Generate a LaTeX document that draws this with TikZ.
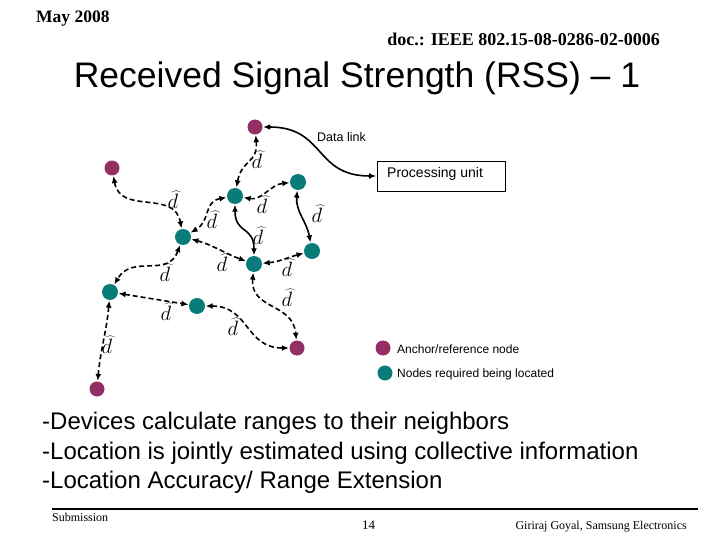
\documentclass[tikz,border=0pt]{standalone}
\usepackage{fontspec}
\setmainfont{Liberation Serif}
\newfontfamily\arialf{Liberation Sans}
\newfontfamily\tnrf{Liberation Serif}
\usetikzlibrary{arrows.meta}
\definecolor{anchorc}{RGB}{146,48,102}
\definecolor{tealc}{RGB}{8,124,120}
\begin{document}
\begin{tikzpicture}[x=1pt,y=-1pt,
  anc/.style={circle,fill=anchorc,minimum size=15pt,inner sep=0pt},
  unk/.style={circle,fill=tealc,minimum size=16pt,inner sep=0pt},
  lnk/.style={line width=1.6pt,{Latex[length=7pt,width=6pt]}-{Latex[length=7pt,width=6pt]},shorten <=0.5pt,shorten >=0.5pt},
  rng/.style={lnk,dash pattern=on 5pt off 3pt},
  dh/.style={font=\fontsize{20}{20}\selectfont,inner sep=0pt},
  small/.style={font=\arialf\fontsize{12}{14}\selectfont,inner sep=0pt,anchor=west}]
\useasboundingbox (0,0) rectangle (720,540);
% header
\node[anchor=base west,inner sep=0pt,font=\tnrf\bfseries\fontsize{17.5}{19}\selectfont] (hd1) at (36,23) {May 2008};
\node[anchor=base east,inner sep=0pt,font=\tnrf\bfseries\fontsize{18}{20}\selectfont] (hd2) at (660,46) {doc.: IEEE 802.15-08-0286-02-0006};
% title
\node[anchor=base,inner sep=0pt,font=\arialf\fontsize{35.5}{38}\selectfont] (title) at (357,88) {Received Signal Strength (RSS) – 1};
% nodes
\node[anc] (A1) at (255,127) {};
\node[anc] (A2) at (112,168) {};
\node[anc] (A3) at (297,348) {};
\node[anc] (A4) at (97,389) {};
\node[unk] (T1) at (235,196) {};
\node[unk] (T2) at (298,182) {};
\node[unk] (T3) at (183,237) {};
\node[unk] (T4) at (312,251) {};
\node[unk] (T5) at (254,264) {};
\node[unk] (T6) at (110,292) {};
\node[unk] (T7) at (197,306) {};
\node[draw,line width=0.8pt,minimum width=128pt,minimum height=30pt,inner sep=0pt] (P) at (441,176) {};
\node[small,font=\arialf\fontsize{14}{16}\selectfont] (Pt) at (387,174) {Processing unit};
\node[small,font=\arialf\fontsize{12.5}{14}\selectfont] (DL) at (317,137) {Data link};
% links
\draw[lnk] (A1) to[out=0,in=180,looseness=1.3] (P.west);
\draw[rng] (A1) to[out=-85,in=80,looseness=1.3] (T1);
\draw[rng] (A2) to[out=-80,in=100,looseness=1.2] (T3);
\draw[rng] (T1) to[out=190,in=30,looseness=1.2] (T3);
\draw[rng] (T1) to[out=-10,in=185] (T2);
\draw[lnk] (T2) to[out=-95,in=100] (T4);
\draw[lnk] (T1) to[out=-90,in=90,looseness=1.4] (T5);
\draw[rng] (T3) to[out=-15,in=160] (T5);
\draw[rng] (T5) to[out=5,in=195] (T4);
\draw[rng] (T3) to[out=-110,in=60,looseness=1.2] (T6);
\draw[rng] (T6) -- (T7);
\draw[rng] (T5) to[out=-95,in=95,looseness=1.2] (A3);
\draw[rng] (T7) to[out=0,in=180,looseness=1.2] (A3);
\draw[rng] (T6) to[out=-95,in=85] (A4);
% range labels
\node[dh] (d1) at (257,160) {$\widehat{d}$};
\node[dh] (d2) at (173,200) {$\widehat{d}$};
\node[dh] (d3) at (212,220) {$\widehat{d}$};
\node[dh] (d4) at (262,205) {$\widehat{d}$};
\node[dh] (d5) at (317,214) {$\widehat{d}$};
\node[dh] (d6) at (258,236) {$\widehat{d}$};
\node[dh] (d7) at (222,263) {$\widehat{d}$};
\node[dh] (d8) at (287,268) {$\widehat{d}$};
\node[dh] (d9) at (165,273) {$\widehat{d}$};
\node[dh] (d10) at (166,312) {$\widehat{d}$};
\node[dh] (d11) at (287,298) {$\widehat{d}$};
\node[dh] (d12) at (233,327) {$\widehat{d}$};
\node[dh] (d13) at (107,345) {$\widehat{d}$};
% legend
\node[anc] (L1) at (383,348) {};
\node[small] (L1t) at (397,349) {Anchor/reference node};
\node[unk,minimum size=15pt] (L2) at (385,373) {};
\node[small] (L2t) at (397,374) {Nodes required being located};
% bullets
\node[anchor=base west,inner sep=0pt,font=\arialf\fontsize{24}{26}\selectfont] (b1) at (42,429) {-Devices calculate ranges to their neighbors};
\node[anchor=base west,inner sep=0pt,font=\arialf\fontsize{24}{26}\selectfont] (b2) at (42,459) {-Location is jointly estimated using collective information};
\node[anchor=base west,inner sep=0pt,font=\arialf\fontsize{24}{26}\selectfont] (b3) at (42,488) {-Location Accuracy/ Range Extension};
% footer
\coordinate (fl) at (52,509);
\coordinate (fr) at (698,509);
\draw[line width=2pt] (fl) -- (fr);
\node[anchor=base west,inner sep=0pt,font=\tnrf\fontsize{12}{14}\selectfont] (f1) at (52,521) {Submission};
\node[anchor=base west,inner sep=0pt,font=\tnrf\fontsize{13}{15}\selectfont] (f2) at (362,529) {14};
\node[anchor=base east,inner sep=0pt,font=\tnrf\fontsize{12}{14}\selectfont] (f3) at (687,529) {Giriraj Goyal, Samsung Electronics};
\end{tikzpicture}
\end{document}
